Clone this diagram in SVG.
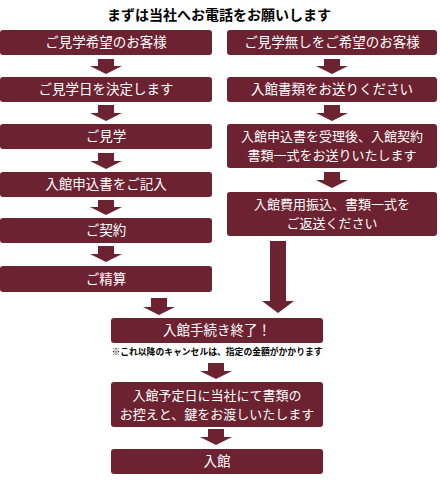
<svg xmlns="http://www.w3.org/2000/svg" width="440" height="480" viewBox="0 0 440 480">
<style>
.box{fill:#6c2230;}
.t{fill:#ffffff;font-family:"Noto Sans CJK JP","Noto Sans CJK SC",sans-serif;font-size:13.5px;text-anchor:middle;}
.t2{fill:#ffffff;font-family:"Noto Sans CJK JP","Noto Sans CJK SC",sans-serif;font-size:13px;text-anchor:middle;}
.arr{fill:#6c2230;}
.title{fill:#000;font-family:"Noto Sans CJK JP",sans-serif;font-size:14px;font-weight:bold;text-anchor:middle;}
.note{fill:#000;font-family:"Noto Sans CJK JP",sans-serif;font-size:8.8px;font-weight:bold;text-anchor:middle;}
</style>
<rect width="440" height="480" fill="#fff"/>
<text class="title" x="219" y="20">まずは当社へお電話をお願いします</text>

<g id="n1"><rect class="box" x="0" y="30" width="212" height="25" rx="3"/><text class="t" x="106" y="47">ご見学希望のお客様</text></g>
<g id="n2"><rect class="box" x="0" y="77" width="212" height="25" rx="3"/><text class="t" x="106" y="94">ご見学日を決定します</text></g>
<g id="n3"><rect class="box" x="0" y="124" width="212" height="25" rx="3"/><text class="t" x="106" y="141">ご見学</text></g>
<g id="n4"><rect class="box" x="0" y="172" width="212" height="25" rx="3"/><text class="t" x="106" y="189">入館申込書をご記入</text></g>
<g id="n5"><rect class="box" x="0" y="218" width="212" height="25" rx="3"/><text class="t" x="106" y="235">ご契約</text></g>
<g id="n6"><rect class="box" x="0" y="266" width="212" height="26" rx="3"/><text class="t" x="106" y="284">ご精算</text></g>

<g id="r1"><rect class="box" x="227" y="30" width="210" height="25" rx="3"/><text class="t" x="332" y="47">ご見学無しをご希望のお客様</text></g>
<g id="r2"><rect class="box" x="227" y="77" width="210" height="25" rx="3"/><text class="t" x="332" y="94">入館書類をお送りください</text></g>
<g id="r3"><rect class="box" x="227" y="124" width="210" height="44" rx="3"/><text class="t2" x="332" y="141">入館申込書を受理後、入館契約</text><text class="t2" x="332" y="160">書類一式をお送りいたします</text></g>
<g id="r4"><rect class="box" x="227" y="192" width="210" height="44" rx="3"/><text class="t2" x="332" y="209">入館費用振込、書類一式を</text><text class="t2" x="332" y="228">ご返送ください</text></g>

<g id="c1"><rect class="box" x="111" y="318" width="212" height="25" rx="3"/><text class="t" x="217" y="335">入館手続き終了！</text></g>
<text class="note" x="217" y="355">※これ以降のキャンセルは、指定の金額がかかります</text>
<g id="c2"><rect class="box" x="111" y="382" width="212" height="45" rx="3"/><text class="t2" x="217" y="400">入館予定日に当社にて書類の</text><text class="t2" x="217" y="419">お控えと、鍵をお渡しいたします</text></g>
<g id="c3"><rect class="box" x="111" y="449" width="212" height="25" rx="3"/><text class="t" x="217" y="466">入館</text></g>

<g id="connectors">
<polygon class="arr" points="98,59 114,59 114,66 122,66 106,74 90,66 98,66"/>
<polygon class="arr" points="98,105 114,105 114,113 122,113 106,121 90,113 98,113"/>
<polygon class="arr" points="98,153 114,153 114,161 122,161 106,169 90,161 98,161"/>
<polygon class="arr" points="98,200 114,200 114,207 122,207 106,215 90,207 98,207"/>
<polygon class="arr" points="98,246 114,246 114,254 122,254 106,262 90,254 98,254"/>
<polygon class="arr" points="324,59 340,59 340,66 348,66 332,74 316,66 324,66"/>
<polygon class="arr" points="324,105 340,105 340,113 348,113 332,121 316,113 324,113"/>
<polygon class="arr" points="324,172 340,172 340,180 348,180 332,188 316,180 324,180"/>
<polygon class="arr" points="270,241 286,241 286,301 294,301 278,313 262,301 270,301"/>
<polygon class="arr" points="151,298 167,298 167,307 175,307 159,315 143,307 151,307"/>
<polygon class="arr" points="208,363 224,363 224,371 232,371 216,379 200,371 208,371"/>
<polygon class="arr" points="208,429 224,429 224,437 232,437 216,445 200,437 208,437"/>
</g>
</svg>
